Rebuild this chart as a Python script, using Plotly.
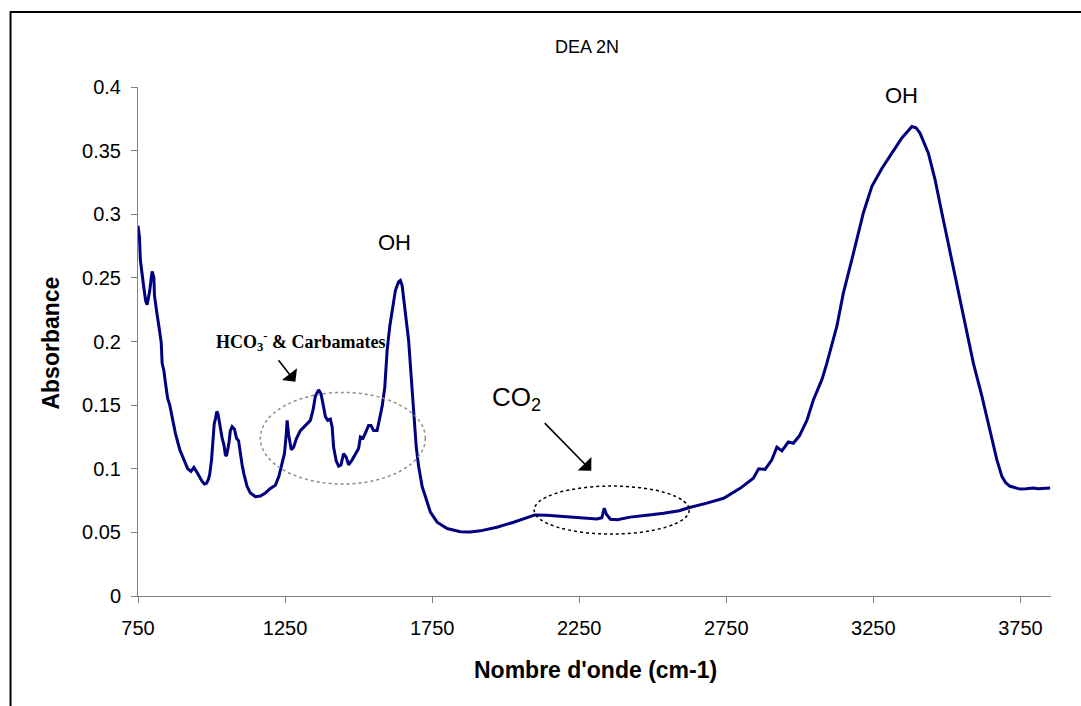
import plotly.graph_objects as go

# FTIR spectrum of DEA 2N: wavenumber (cm-1) and absorbance
wavenumber = [
    750, 755, 758, 764, 770, 776, 781, 786, 790, 795, 798, 801, 804, 806, 810, 815, 821, 826,
    829, 832, 838, 843, 851, 858, 866, 877, 892, 906, 919, 930, 940, 951, 960, 968, 976, 983,
    990, 994, 1000, 1005, 1009, 1013, 1018, 1022, 1026, 1030, 1036, 1042, 1047, 1051, 1055,
    1059, 1064, 1070, 1078, 1085, 1092, 1098, 1104, 1110, 1121, 1132, 1149, 1166, 1183, 1200,
    1217, 1229, 1240, 1248, 1254, 1257, 1262, 1271, 1279, 1289, 1302, 1319, 1336, 1345, 1353,
    1364, 1372, 1379, 1387, 1395, 1404, 1410, 1415, 1424, 1432, 1440, 1449, 1458, 1466, 1478,
    1489, 1500, 1506, 1515, 1523, 1534, 1542, 1551, 1563, 1572, 1580, 1589, 1597, 1606, 1614,
    1625, 1636, 1642, 1648, 1653, 1662, 1670, 1678, 1687, 1696, 1704, 1716, 1730, 1744, 1767,
    1801, 1846, 1880, 1914, 1970, 2027, 2072, 2100, 2140, 2197, 2240, 2276, 2310, 2327, 2335,
    2343, 2356, 2380, 2423, 2480, 2537, 2590, 2625, 2684, 2741, 2797, 2842, 2860, 2882, 2905,
    2922, 2939, 2961, 2978, 2999, 3024, 3046, 3075, 3092, 3126, 3148, 3182, 3216, 3245, 3279,
    3313, 3347, 3370, 3381, 3395, 3409, 3437, 3460, 3483, 3505, 3534, 3562, 3590, 3619, 3647,
    3670, 3687, 3700, 3715, 3749, 3770, 3794, 3810, 3828, 3851,
]
absorbance = [
    0.291, 0.282, 0.264, 0.250, 0.242, 0.232, 0.229, 0.235, 0.240, 0.250, 0.255, 0.253, 0.250,
    0.236, 0.228, 0.221, 0.212, 0.205, 0.199, 0.183, 0.177, 0.168, 0.155, 0.150, 0.141, 0.128,
    0.115, 0.107, 0.100, 0.098, 0.101, 0.097, 0.093, 0.090, 0.088, 0.0885, 0.092, 0.096, 0.107,
    0.126, 0.135, 0.139, 0.145, 0.143, 0.137, 0.130, 0.124, 0.119, 0.111, 0.110, 0.114, 0.120,
    0.130, 0.133, 0.131, 0.124, 0.122, 0.110, 0.103, 0.096, 0.086, 0.081, 0.078, 0.0785, 0.081,
    0.0845, 0.087, 0.094, 0.104, 0.112, 0.127, 0.138, 0.127, 0.115, 0.117, 0.124, 0.130, 0.134,
    0.138, 0.146, 0.157, 0.162, 0.159, 0.151, 0.141, 0.138, 0.139, 0.133, 0.117, 0.106, 0.102,
    0.103, 0.112, 0.109, 0.103, 0.107, 0.112, 0.116, 0.125, 0.124, 0.128, 0.134, 0.134, 0.130,
    0.130, 0.141, 0.149, 0.164, 0.193, 0.212, 0.225, 0.240, 0.247, 0.248, 0.244, 0.235, 0.219,
    0.201, 0.175, 0.146, 0.117, 0.102, 0.086, 0.076, 0.066, 0.058, 0.053, 0.0505, 0.0503,
    0.0512, 0.0540, 0.0580, 0.0615, 0.0637, 0.0635, 0.0625, 0.0615, 0.0610, 0.0605, 0.0615,
    0.0690, 0.0640, 0.0603, 0.0600, 0.0620, 0.0635, 0.0650, 0.0670, 0.0695, 0.0730, 0.0768,
    0.0846, 0.0925, 0.1000, 0.0995, 0.107, 0.117, 0.114, 0.121, 0.120, 0.126, 0.138, 0.154,
    0.170, 0.183, 0.212, 0.238, 0.269, 0.301, 0.322, 0.336, 0.348, 0.360, 0.366, 0.369, 0.368,
    0.3636, 0.348, 0.327, 0.301, 0.277, 0.243, 0.212, 0.183, 0.157, 0.130, 0.107, 0.094, 0.089,
    0.0862, 0.0840, 0.0842, 0.0848, 0.0843, 0.0846, 0.0848,
]

x_ticks = [750, 1250, 1750, 2250, 2750, 3250, 3750]
y_ticks = [0, 0.05, 0.1, 0.15, 0.2, 0.25, 0.3, 0.35, 0.4]

SANS = "Liberation Sans, Arial, sans-serif"
SERIF = "Liberation Serif, Times New Roman, serif"

fig = go.Figure()
fig.add_trace(go.Scatter(
    x=wavenumber, y=absorbance, mode="lines",
    line=dict(color="#000080", width=3),
    showlegend=False, hoverinfo="x+y",
))

axis_common = dict(
    showgrid=False, zeroline=False, showline=True, linecolor="#808080", linewidth=1,
    ticks="outside", ticklen=6, tickcolor="#808080", tickwidth=1,
    tickfont=dict(family=SANS, size=20, color="black"),
)
fig.update_xaxes(range=[750, 3854], tickvals=x_ticks, ticktext=[str(v) for v in x_ticks],
                 ticklabelstandoff=8, **axis_common)
fig.update_yaxes(range=[0, 0.4], tickvals=y_ticks, ticktext=[f"{v:g}" for v in y_ticks],
                 ticklabelstandoff=6, **axis_common)


def label(text, x, y, size, family=SANS, ref="data", angle=0):
    xr, yr = ("paper", "paper") if ref == "paper" else ("x", "y")
    return dict(text=text, x=x, y=y, xref=xr, yref=yr, showarrow=False,
                xanchor="center", yanchor="middle", textangle=angle,
                font=dict(family=family, size=size, color="black"))


def arrow(x, y, ax, ay):
    return dict(text="", x=x, y=y, xref="x", yref="y", ax=ax, ay=ay, showarrow=True,
                arrowhead=1, arrowsize=2.0, arrowwidth=1.6, arrowcolor="black")


annotations = [
    label("DEA 2N", 0.492, 1.0786, 18, ref="paper"),
    label("<b>Absorbance</b>", -0.0958, 0.497, 23, ref="paper", angle=-90),
    label("<b>Nombre d'onde (cm-1)</b>", 0.5008, -0.1454, 23, ref="paper"),
    label("OH", 1622, 0.2775, 22),
    label("OH", 3346, 0.3937, 22),
    label("<b>HCO<sub>3</sub><sup>-</sup> & Carbamates</b>", 1303, 0.2, 18, family=SERIF),
    label("CO<sub>2</sub>", 2037, 0.1556, 26),
    # arrows pointing at the carbonate band and the CO2 band
    arrow(1285, 0.1684, -18, -23),
    arrow(2291, 0.0985, -48, -49),
]

shapes = [
    dict(type="circle", xref="x", yref="y", x0=1166, x1=1727, y0=0.088, y1=0.160,
         line=dict(color="#8c8c8c", width=1.5, dash="dot")),
    dict(type="circle", xref="x", yref="y", x0=2097, x1=2624, y0=0.0487, y1=0.0864,
         line=dict(color="black", width=1.5, dash="dot")),
    dict(type="rect", xref="paper", yref="paper", x0=-0.1396, x1=1.05, y0=-0.25, y1=1.1473,
         line=dict(color="black", width=2), layer="below"),
]

fig.update_layout(
    width=1081, height=706,
    margin=dict(l=137.5, r=30, t=87, b=110, autoexpand=False),
    paper_bgcolor="white", plot_bgcolor="white",
    annotations=annotations, shapes=shapes,
)

fig.write_html("out.html")
